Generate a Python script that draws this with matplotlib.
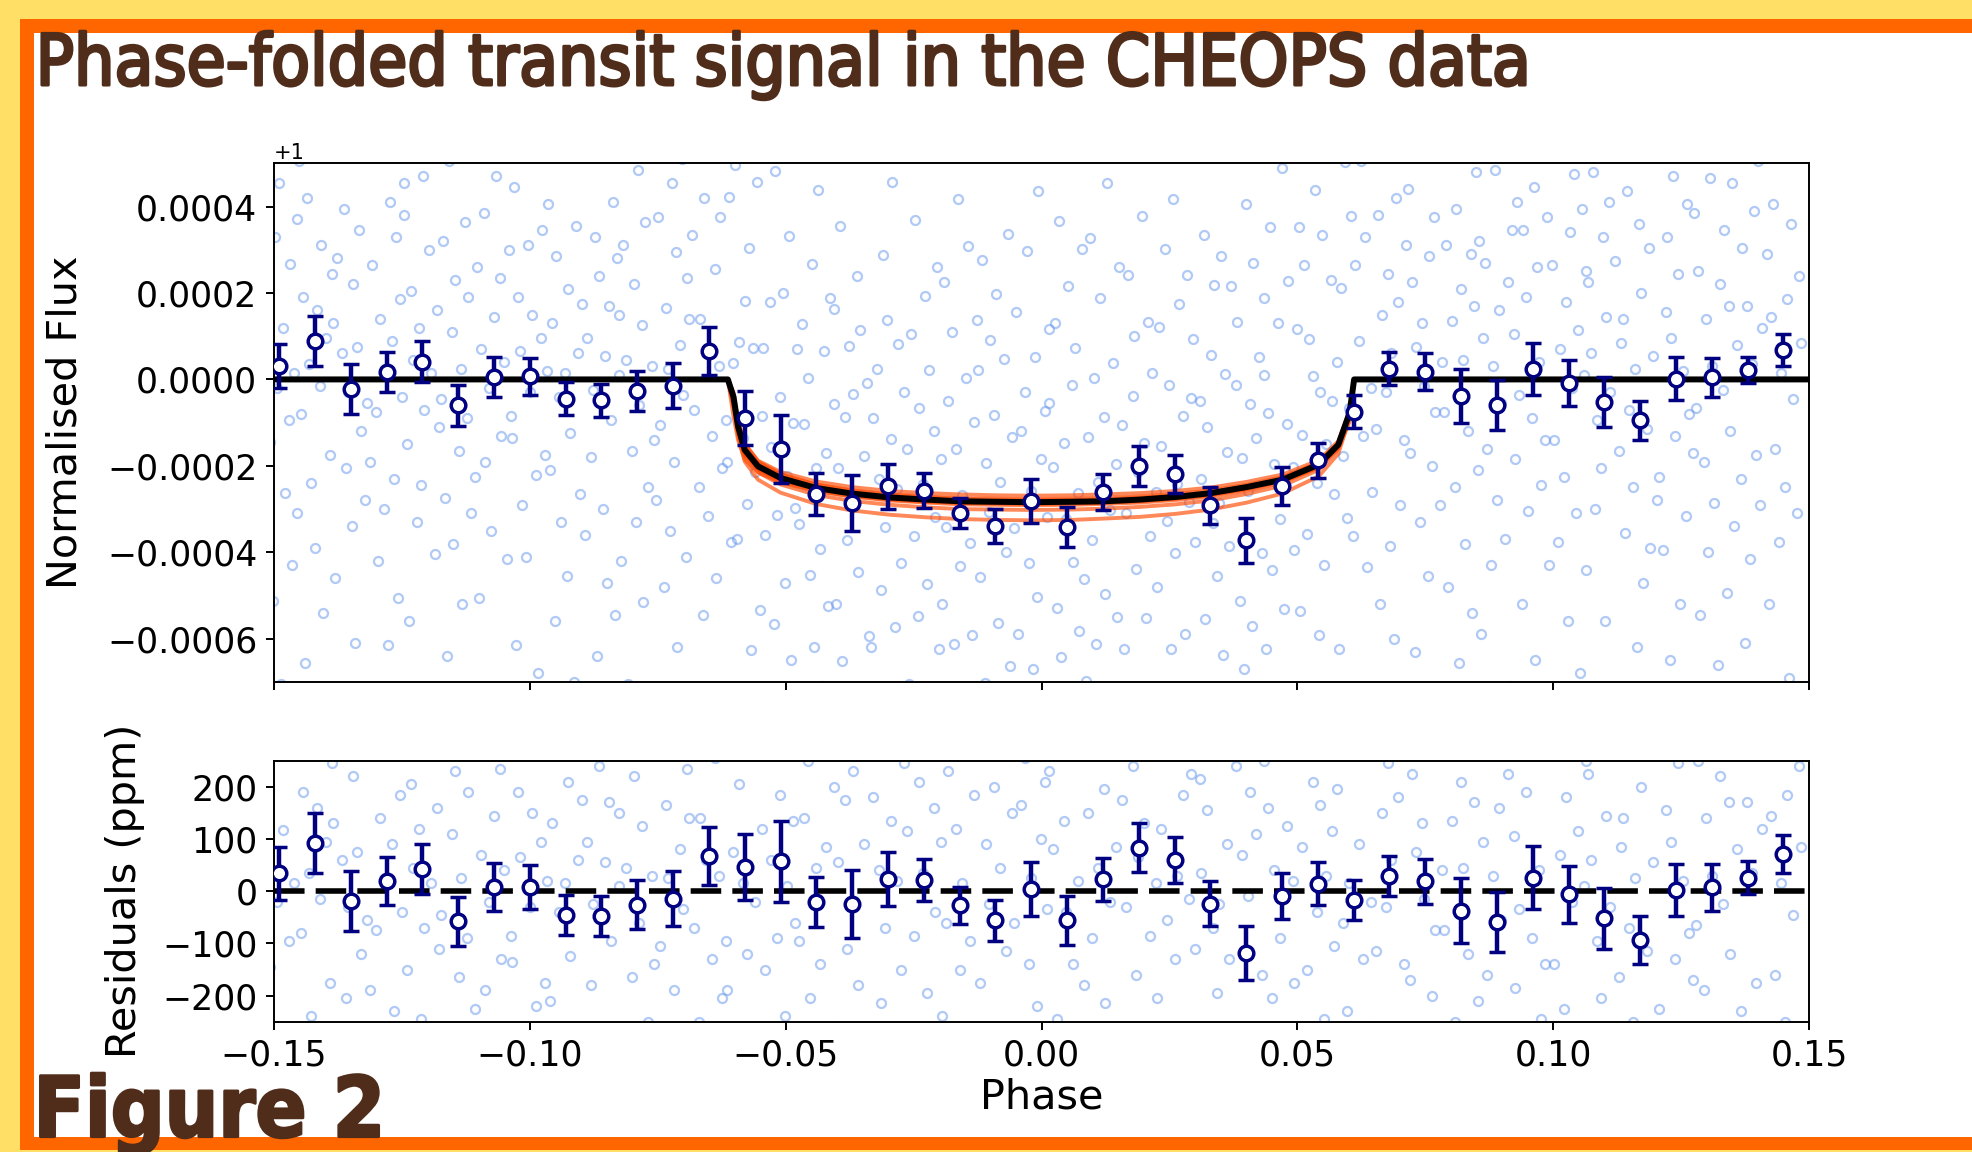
import numpy as np
import matplotlib

matplotlib.use("Agg")
import matplotlib.pyplot as plt
import matplotlib.patheffects as pe
from matplotlib import font_manager
from matplotlib.patches import Rectangle
from matplotlib.ticker import FixedLocator, ScalarFormatter

# binned data (phase, flux - 1 in ppm, error in ppm, residual in ppm)
bin_phase = [-0.149, -0.142, -0.135, -0.128, -0.121, -0.114, -0.107, -0.100, -0.093, -0.086,
             -0.079, -0.072, -0.065, -0.058, -0.051, -0.044, -0.037, -0.030, -0.023, -0.016,
             -0.009, -0.002, 0.005, 0.012, 0.019, 0.026, 0.033, 0.040, 0.047, 0.054,
             0.061, 0.068, 0.075, 0.082, 0.089, 0.096, 0.103, 0.110, 0.117, 0.124,
             0.131, 0.138, 0.145]
bin_flux_ppm = [31, 88, -22, 18, 41, -60, 5, 7, -45, -48,
                -27, -15, 66, -89, -161, -265, -286, -247, -257, -309,
                -339, -282, -341, -260, -200, -218, -291, -372, -246, -187,
                -75, 25, 18, -38, -60, 24, -8, -53, -95, 2,
                5, 22, 68]
bin_err_ppm = [50, 58, 58, 46, 48, 47, 46, 42, 38, 38,
               47, 52, 56, 63, 78, 48, 65, 52, 40, 35,
               40, 51, 47, 41, 47, 44, 43, 52, 44, 41,
               38, 38, 43, 63, 58, 61, 54, 58, 46, 50,
               45, 31, 36]
bin_resid_ppm = [34, 92, -19, 20, 43, -58, 8, 8, -45, -47,
                 -26, -14, 67, 46, 57, -21, -25, 23, 21, -27,
                 -56, 4, -56, 23, 83, 59, -24, -118, -10, 14,
                 -17, 29, 19, -37, -59, 26, -6, -52, -94, 3,
                 8, 26, 71]

# best-fit transit model
model_phase = [-0.150, -0.0613, -0.0602, -0.0593, -0.0580, -0.0554, -0.0510, -0.0441, -0.0371,
               -0.0297, -0.0226, -0.0158, -0.0091, -0.0019, 0.0060, 0.0121, 0.0192, 0.0262,
               0.0331, 0.0401, 0.0471, 0.0542, 0.0580, 0.0602, 0.0611, 0.150]
model_ppm = [0, 0, -40, -109, -163, -201, -228, -251, -264, -273, -278, -282, -283,
             -284, -283, -282, -278, -272, -263, -249, -232, -197, -151, -78, 0, 0]

# posterior sample models (same phases as the best fit)
sample_a = [0, 0, -35, -100, -150, -188, -214, -236, -249, -258, -263, -266, -268,
            -269, -268, -266, -263, -258, -250, -237, -220, -187, -143, -72, 0, 0]
sample_b = [0, 0, -45, -118, -175, -215, -243, -267, -281, -290, -296, -300, -301,
            -302, -301, -299, -295, -289, -280, -265, -246, -209, -160, -84, 0, 0]
sample_c = [0, 0, -60, -130, -190, -232, -262, -288, -303, -313, -319, -323, -325,
            -326, -325, -322, -318, -311, -301, -285, -264, -224, -172, -90, 0, 0]
sample_d = [0, 0, -38, -104, -157, -194, -221, -244, -257, -266, -271, -275, -276,
            -277, -276, -274, -271, -265, -257, -244, -226, -192, -147, -75, 0, 0]
sample_e = [0, 0, -42, -113, -169, -208, -235, -258, -271, -280, -285, -289, -290,
            -291, -290, -288, -285, -279, -271, -257, -238, -203, -155, -81, 0, 0]
sample_f = [0, 0, -85, -140, -185, -215, -238, -258, -270, -278, -283, -286, -287,
            -288, -287, -285, -282, -276, -268, -254, -236, -203, -160, -98, 0, 0]
sample_g = [0, 0, -30, -95, -148, -190, -219, -243, -257, -267, -272, -276, -278,
            -279, -278, -277, -273, -268, -260, -247, -230, -196, -150, -70, 0, 0]
sample_h = [0, 0, -60, -122, -172, -206, -232, -254, -267, -276, -281, -285, -286,
            -287, -286, -285, -281, -275, -266, -252, -234, -199, -153, -88, 0, 0]

# unbinned points: phase in units of 1e-4, residual from the model in ppm
raw_phase_1e4 = [
    -1523, -1519, -1515, -1510, -1507, -1502, -1499, -1495, -1491, -1487, -1483, -1479, -1476, -1471, -1468, -1464, -1460, -1456,
    -1455, -1451, -1447, -1443, -1439, -1435, -1431, -1427, -1423, -1419, -1416, -1411, -1408, -1404, -1399, -1396, -1391, -1387,
    -1384, -1380, -1376, -1371, -1368, -1363, -1360, -1356, -1352, -1348, -1345, -1342, -1337, -1333, -1330, -1325, -1322, -1318,
    -1313, -1309, -1305, -1300, -1297, -1292, -1289, -1285, -1281, -1277, -1273, -1269, -1266, -1261, -1258, -1254, -1250, -1246,
    -1245, -1241, -1237, -1233, -1229, -1225, -1221, -1217, -1213, -1209, -1206, -1201, -1198, -1194, -1189, -1186, -1181, -1177,
    -1174, -1170, -1166, -1161, -1158, -1153, -1150, -1146, -1142, -1138, -1135, -1132, -1127, -1123, -1120, -1115, -1112, -1108,
    -1103, -1099, -1095, -1090, -1087, -1082, -1079, -1075, -1071, -1067, -1063, -1059, -1056, -1051, -1048, -1044, -1040, -1036,
    -1035, -1031, -1027, -1023, -1019, -1015, -1011, -1007, -1003, -999, -996, -991, -988, -984, -979, -976, -971, -967,
    -964, -960, -956, -951, -948, -943, -940, -936, -932, -928, -925, -922, -917, -913, -910, -905, -902, -898,
    -893, -889, -885, -880, -877, -872, -869, -865, -861, -857, -853, -849, -846, -841, -838, -834, -830, -826,
    -825, -821, -817, -813, -809, -805, -801, -797, -793, -789, -786, -781, -778, -774, -769, -766, -761, -757,
    -754, -750, -746, -741, -738, -733, -730, -726, -722, -718, -715, -712, -707, -703, -700, -695, -692, -688,
    -683, -679, -675, -670, -667, -662, -659, -655, -651, -647, -643, -639, -636, -631, -628, -624, -620, -616,
    -615, -611, -607, -603, -599, -595, -591, -587, -583, -579, -576, -571, -568, -564, -559, -556, -551, -547,
    -544, -540, -536, -531, -528, -523, -520, -516, -512, -508, -505, -502, -497, -493, -490, -485, -482, -478,
    -473, -469, -465, -460, -457, -452, -449, -445, -441, -437, -433, -429, -426, -421, -418, -414, -410, -406,
    -405, -401, -397, -393, -389, -385, -381, -377, -373, -369, -366, -361, -358, -354, -349, -346, -341, -337,
    -334, -330, -326, -321, -318, -313, -310, -306, -302, -298, -295, -292, -287, -283, -280, -275, -272, -268,
    -263, -259, -255, -250, -247, -242, -239, -235, -231, -227, -223, -219, -216, -211, -208, -204, -200, -196,
    -195, -191, -187, -183, -179, -175, -171, -167, -163, -159, -156, -151, -148, -144, -139, -136, -131, -127,
    -124, -120, -116, -111, -108, -103, -100, -96, -92, -88, -85, -82, -77, -73, -70, -65, -62, -58,
    -53, -49, -45, -40, -37, -32, -29, -25, -21, -17, -13, -9, -6, -1, 2, 6, 10, 14,
    15, 19, 23, 27, 31, 35, 39, 43, 47, 51, 54, 59, 62, 66, 71, 74, 79, 83,
    86, 90, 94, 99, 102, 107, 110, 114, 118, 122, 125, 128, 133, 137, 140, 145, 148, 152,
    157, 161, 165, 170, 173, 178, 181, 185, 189, 193, 197, 201, 204, 209, 212, 216, 220, 224,
    225, 229, 233, 237, 241, 245, 249, 253, 257, 261, 264, 269, 272, 276, 281, 284, 289, 293,
    296, 300, 304, 309, 312, 317, 320, 324, 328, 332, 335, 338, 343, 347, 350, 355, 358, 362,
    367, 371, 375, 380, 383, 388, 391, 395, 399, 403, 407, 411, 414, 419, 422, 426, 430, 434,
    435, 439, 443, 447, 451, 455, 459, 463, 467, 471, 474, 479, 482, 486, 491, 494, 499, 503,
    506, 510, 514, 519, 522, 527, 530, 534, 538, 542, 545, 548, 553, 557, 560, 565, 568, 572,
    577, 581, 585, 590, 593, 598, 601, 605, 609, 613, 617, 621, 624, 629, 632, 636, 640, 644,
    645, 649, 653, 657, 661, 665, 669, 673, 677, 681, 684, 689, 692, 696, 701, 704, 709, 713,
    716, 720, 724, 729, 732, 737, 740, 744, 748, 752, 755, 758, 763, 767, 770, 775, 778, 782,
    787, 791, 795, 800, 803, 808, 811, 815, 819, 823, 827, 831, 834, 839, 842, 846, 850, 854,
    855, 859, 863, 867, 871, 875, 879, 883, 887, 891, 894, 899, 902, 906, 911, 914, 919, 923,
    926, 930, 934, 939, 942, 947, 950, 954, 958, 962, 965, 968, 973, 977, 980, 985, 988, 992,
    997, 1001, 1005, 1010, 1013, 1018, 1021, 1025, 1029, 1033, 1037, 1041, 1044, 1049, 1052, 1056, 1060, 1064,
    1065, 1069, 1073, 1077, 1081, 1085, 1089, 1093, 1097, 1101, 1104, 1109, 1112, 1116, 1121, 1124, 1129, 1133,
    1136, 1140, 1144, 1149, 1152, 1157, 1160, 1164, 1168, 1172, 1175, 1178, 1183, 1187, 1190, 1195, 1198, 1202,
    1207, 1211, 1215, 1220, 1223, 1228, 1231, 1235, 1239, 1243, 1247, 1251, 1254, 1259, 1262, 1266, 1270, 1274,
    1275, 1279, 1283, 1287, 1291, 1295, 1299, 1303, 1307, 1311, 1314, 1319, 1322, 1326, 1331, 1334, 1339, 1343,
    1346, 1350, 1354, 1359, 1362, 1367, 1370, 1374, 1378, 1382, 1385, 1388, 1393, 1397, 1400, 1405, 1408, 1412,
    1417, 1421, 1425, 1430, 1433, 1438, 1441, 1445, 1449, 1453, 1457, 1461, 1464, 1469, 1472, 1476, 1480, 1484,
]
raw_resid_ppm = [
    212, -388, 57, 640, -145, -512, 330, -20, 455, -705, 118, -262, 790, -95, 268, -430, 15, 372,
    -310, 505, -80, 190, -655, 420, 35, -240, 875, -390, 160, -15, 310, -540, 95, 610, -175, 245,
    130, -460, 280, -720, 60, 395, -205, -30, 515, -340, 220, -610, 75, 345, -120, 680, -280, -55,
    -190, 265, 720, -75, -420, 140, 560, -300, 25, -615, 410, 90, -230, 330, -505, 185, -40, 455,
    380, -150, -560, 205, 45, 690, -330, 120, -245, 470, -70, -780, 300, 15, 590, -405, 160, -110,
    -45, 320, -275, -640, 505, 110, -380, 230, 805, -165, 25, -520, 365, -90, 190, -310, 610, -225,
    260, -505, 70, 385, -190, 615, -20, -350, 145, 470, -730, 235, -130, 40, 560, -415, 300, -85,
    -135, 445, -615, 190, 65, -290, 720, -410, 310, -30, 150, 535, -220, -680, 95, 345, -175, 20,
    405, -210, 130, -560, 285, -40, -330, 670, 15, -455, 210, -125, 580, -700, 355, 60, -265, 175,
    -360, 95, 520, -180, -25, 330, -640, 240, 760, -300, 55, -470, 170, -95, 410, -545, 280, 10,
    150, -420, 310, 45, -705, 560, -165, 220, -330, 485, -60, 125, -515, 365, -250, 690, 30, -140,
    -280, 375, -105, 620, -480, 165, 25, -350, 455, -190, 295, -620, 80, 510, -35, -410, 235, 140,
    335, -70, 590, -250, 140, -545, 420, 60, -315, 740, -130, 255, -460, 30, 375, -205, 615, -95,
    -190, 430, -355, 75, 560, -275, 205, -610, 15, 345, -120, 480, -445, 260, -20, 655, -330, 120,
    280, -150, -520, 395, 60, -345, 705, -90, 185, -610, 430, -240, 10, 565, -415, 135, -60, 310,
    -95, 370, 140, -580, 250, -205, 515, -370, 45, 690, -140, -455, 320, 85, -270, 445, -600, 200,
    420, -260, 55, 615, -390, 175, -110, 340, -675, 230, -30, 505, -180, 380, -505, 90, 260, -325,
    -350, 180, -620, 295, 40, -215, 560, -70, 410, -480, 135, 730, -300, 20, 355, -150, -560, 245,
    115, -430, 380, -85, 645, -270, 210, -560, 35, 470, -195, 300, -720, 160, -40, 540, -345, 95,
    -240, 505, -60, 230, -600, 390, -330, 120, 700, -150, 15, -465, 285, 590, -95, -310, 185, 420,
    305, -175, 560, -420, 90, -25, 375, -640, 200, 480, -280, 45, -510, 330, -115, 620, -380, 150,
    -60, 440, -305, 165, -690, 255, 580, -140, 25, -385, 335, -220, 720, 100, -470, 210, -35, 400,
    230, -520, 80, 415, -245, 650, -360, 135, -40, 500, -615, 270, -140, 355, 20, -300, 585, -180,
    -415, 150, 610, -90, 285, -330, 45, 470, -560, 195, -215, 735, -20, -460, 320, 85, -270, 540,
    175, -345, -30, 520, -610, 240, 380, -160, 65, -490, 655, 130, -275, 410, -85, 290, -705, 15,
    -205, 395, 120, -470, 575, -55, 260, -350, 690, -130, 30, 445, -590, 185, -320, 510, -15, 225,
    360, -110, -450, 215, 35, 600, -290, 155, -640, 320, -70, 480, -195, -25, 545, -380, 270, 90,
    -130, 470, -580, 240, 385, -260, 70, -420, 655, -10, 190, -325, 515, 110, -700, 295, -160, 430,
    250, -385, 160, 590, -205, 40, -530, 365, -90, 720, -300, 125, 455, -640, 20, -175, 335, 570,
    -320, 85, 475, -150, 300, -565, 210, 640, -40, -395, 165, 525, -245, 30, -680, 400, 115, -105,
    195, -475, 345, -60, 610, -230, 15, 430, -345, 265, -720, 90, 505, -130, 330, -435, 680, -20,
    -260, 540, -115, 380, -520, 150, 705, -30, 245, -385, 60, -600, 420, 180, -290, 595, -140, 310,
    440, -170, 225, -630, 75, 515, -330, 130, -15, 655, -455, 285, -200, 375, -75, 560, -290, 40,
    -75, 310, -480, 560, 135, -250, 395, -655, 210, 45, -380, 640, -120, 290, -540, 170, 480, -210,
    320, -590, 95, 270, -160, 725, -430, 30, 485, -280, 160, -55, 600, -370, 225, -710, 345, 105,
    -185, 410, -35, -520, 345, 190, -305, 585, -90, 445, -650, 260, 40, -245, 690, -140, 375, -430,
    265, -140, 545, -375, 70, 620, -225, 180, -560, 340, -20, 475, -310, 115, -680, 395, 10, 250,
    -440, 225, 60, 480, -300, -95, 660, -205, 330, -560, 145, 410, -30, -730, 275, 520, -165, 85,
    140, -355, 435, -70, 595, -250, 25, -620, 360, 200, -470, 690, -115, 305, -390, 55, 560, -280,
    -225, 520, -395, 155, 330, -650, 95, 470, -130, 245, -520, 610, 20, -315, 405, -80, 735, -170,
    385, -65, 250, -545, 715, -190, 140, -400, 465, 30, -285, 550, -660, 220, -25, 345, -495, 170,
    -120, 455, -340, 80, 580, -230, 305, -610, 170, 640, -415, 35, 390, -175, 505, -290, 120, -760,
    290, -520, 145, 405, -160, 640, -375, 15, 520, -250, 185, -690, 360, -45, 600, -310, 240, 85,
]

flux_ticks_ppm = [-600, -400, -200, 0, 200, 400]
resid_ticks_ppm = [-200, -100, 0, 100, 200]
phase_ticks = [-0.15, -0.10, -0.05, 0.00, 0.05, 0.10, 0.15]

YELLOW = "#FFDF66"
ORANGE = "#FF6600"
BROWN = "#4F2D1A"
W, H = 1972, 1152


def pick_narrow_font():
    fonts = font_manager.fontManager.ttflist
    names = {f.name for f in fonts}
    if "Liberation Sans Narrow" in names:
        return {"family": "Liberation Sans Narrow"}
    if any(f.name == "DejaVu Sans" and f.stretch == "condensed" for f in fonts):
        return {"family": "DejaVu Sans", "stretch": "condensed"}
    return {"family": "DejaVu Sans"}


def fit_width(fig, txt, target_px):
    renderer = fig.canvas.get_renderer()
    width = txt.get_window_extent(renderer=renderer).width
    txt.set_fontsize(txt.get_fontsize() * target_px / width)


def style_axis(ax):
    for sp in ax.spines.values():
        sp.set_linewidth(1.4)
    ax.tick_params(direction="out", length=6, width=1.4, labelsize=25, pad=6)
    ax.set_xlim(-0.15, 0.15)
    ax.xaxis.set_major_locator(FixedLocator(phase_ticks))


def draw_bins(ax, y, yerr):
    ax.errorbar(bin_phase, y, yerr=yerr, fmt="o", color="navy", mfc="white", mec="navy",
                ms=10.5, mew=2.5, elinewidth=3.2, capsize=6, capthick=3.2, zorder=4)


def main():
    ph = np.array(raw_phase_1e4) * 1e-4
    resid = np.array(raw_resid_ppm, dtype=float)
    model_at_ph = np.interp(ph, model_phase, model_ppm)
    flux = 1 + (model_at_ph + resid) * 1e-6

    fig = plt.figure(figsize=(W / 100, H / 100), dpi=100)
    fig.patch.set_facecolor(YELLOW)
    fig.add_artist(Rectangle((20 / W, 2 / H), 1, (1150 - 19) / H, transform=fig.transFigure,
                             facecolor=ORANGE, edgecolor="none", zorder=-2))
    fig.add_artist(Rectangle((33.5 / W, (1152 - 1136.7) / H), 1, (1136.7 - 33.3) / H,
                             transform=fig.transFigure, facecolor="white", edgecolor="none", zorder=-1))

    ax1 = fig.add_axes([274 / W, (H - 682) / H, 1535 / W, (682 - 163.3) / H])
    ax2 = fig.add_axes([274 / W, (H - 1021.7) / H, 1535 / W, (1021.7 - 760.7) / H])

    # top panel
    ax1.plot(ph, flux, "o", ms=6.5, mfc="none", mec="cornflowerblue", mew=1.6, alpha=0.5, zorder=1)
    mp = np.array(model_phase)
    for s in (sample_a, sample_b, sample_c, sample_d, sample_e, sample_f, sample_g, sample_h):
        ax1.plot(mp, 1 + np.array(s) * 1e-6, color="#FF4800", lw=2.8, alpha=0.65, zorder=2)
    ax1.plot(mp, 1 + np.array(model_ppm) * 1e-6, color="black", lw=4.3, zorder=3)
    draw_bins(ax1, 1 + np.array(bin_flux_ppm) * 1e-6, np.array(bin_err_ppm) * 1e-6)
    style_axis(ax1)
    ax1.set_ylim(1 - 0.0007, 1 + 0.0005)
    ax1.yaxis.set_major_locator(FixedLocator([1 + v * 1e-6 for v in flux_ticks_ppm]))
    ax1.yaxis.set_major_formatter(ScalarFormatter(useOffset=1.0))
    ax1.yaxis.get_offset_text().set_fontsize(15)
    ax1.tick_params(axis="x", labelbottom=False)
    ax1.set_ylabel("Normalised Flux", fontsize=29.8)
    ax1.yaxis.set_label_coords(-0.123, 0.5)

    # residual panel
    ax2.plot(ph, resid, "o", ms=6.5, mfc="none", mec="cornflowerblue", mew=1.6, alpha=0.5, zorder=1)
    ax2.axhline(0, color="black", lw=4.0, ls=(0, (5.5, 2)), zorder=3)
    draw_bins(ax2, bin_resid_ppm, bin_err_ppm)
    style_axis(ax2)
    ax2.set_ylim(-250, 250)
    ax2.yaxis.set_major_locator(FixedLocator(resid_ticks_ppm))
    ax2.set_ylabel("Residuals (ppm)", fontsize=29.8)
    ax2.yaxis.set_label_coords(-0.084, 0.5)
    ax2.set_xlabel("Phase", fontsize=29.8, labelpad=4)

    # title and figure tag
    font = pick_narrow_font()
    title = fig.text(35.7 / W, (H - 85) / H, "Phase-folded transit signal in the CHEOPS data",
                     ha="left", va="baseline", color=BROWN, fontsize=60, zorder=5, **font)
    fit_width(fig, title, 1532 - 37)
    title.set_path_effects([pe.withStroke(linewidth=2.2, foreground=BROWN)])
    tag = fig.text(33.5 / W, (H - 1136.7) / H, "Figure 2", ha="left", va="baseline",
                   color=BROWN, fontsize=70, fontweight="bold", zorder=5, **font)
    fit_width(fig, tag, 352)
    tag.set_path_effects([pe.withStroke(linewidth=2.0, foreground=BROWN)])

    fig.savefig("out.png", dpi=100, facecolor=fig.get_facecolor())
    plt.close(fig)


if __name__ == "__main__":
    main()
